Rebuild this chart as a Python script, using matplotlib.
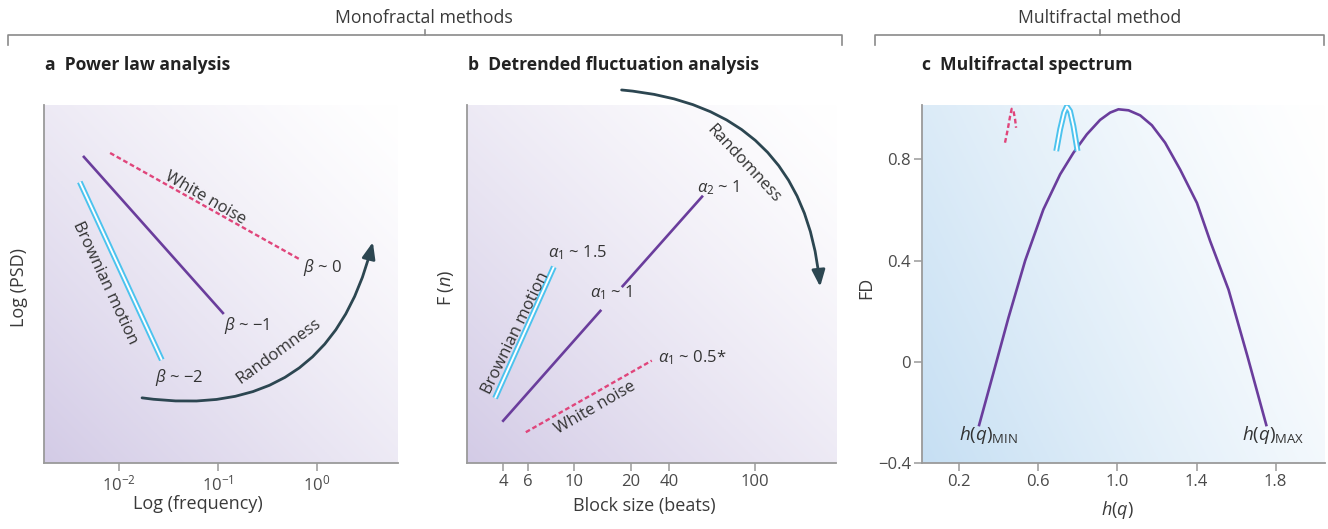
import numpy as np
import matplotlib

matplotlib.use("Agg")
import matplotlib.pyplot as plt
from matplotlib.lines import Line2D

plt.rcParams.update(
    {
        "font.family": ["Open Sans", "DejaVu Sans"],
        "font.size": 12,
        "mathtext.fontset": "custom",
        "mathtext.rm": "Open Sans",
        "mathtext.it": "Open Sans:italic",
        "mathtext.bf": "Open Sans:bold",
        "axes.edgecolor": "#9a9a9a",
        "axes.linewidth": 1.3,
        "xtick.color": "#9a9a9a",
        "ytick.color": "#9a9a9a",
        "xtick.labelcolor": "#4a4a4a",
        "ytick.labelcolor": "#4a4a4a",
        "axes.labelcolor": "#3a3a3a",
    }
)

# Colour palette
COL_PURPLE = "#6a3d9c"
COL_BLUE = "#4cc3ee"
COL_PINK = "#e0457b"
COL_ARROW = "#2c4651"
COL_TEXT = "#333333"
MINUS = "\u2212"

# ---------------------------------------------------------------------------
# Data
# ---------------------------------------------------------------------------
# a: power law analysis (frequency, log PSD in arbitrary units)
psd_freq_brown = [0.0040, 0.027]
psd_val_brown = [0.785, 0.288]
psd_freq_pink = [0.0044, 0.112]
psd_val_pink = [0.855, 0.419]
psd_freq_white = [0.0081, 0.66]
psd_val_white = [0.866, 0.570]
psd_ticks = [1e-2, 1e-1, 1e0]
psd_ticklabels = [r"$10^{-2}$", r"$10^{-1}$", r"$10^{0}$"]

# b: detrended fluctuation analysis (block size in beats, F(n) arbitrary)
dfa_ticks = [4, 6, 10, 20, 40, 100]
dfa_tick_pos = [0.098, 0.165, 0.290, 0.444, 0.547, 0.780]
dfa_brown_n = [3.75, 8.0]
dfa_brown_f = [0.181, 0.548]
dfa_a1_n = [4.0, 13.8]
dfa_a1_f = [0.118, 0.425]
dfa_a2_n = [18.1, 57.0]
dfa_a2_f = [0.494, 0.744]
dfa_white_n = [5.8, 29.3]
dfa_white_f = [0.086, 0.286]

# c: multifractal spectrum
mf_h = [0.300, 0.372, 0.448, 0.533, 0.625, 0.710, 0.777, 0.845, 0.912,
        0.963, 1.005, 1.056, 1.115, 1.174, 1.241, 1.317, 1.402, 1.469,
        1.562, 1.658, 1.753]
mf_fd = [-0.250, -0.045, 0.173, 0.400, 0.602, 0.741, 0.826, 0.899, 0.956,
         0.985, 0.998, 0.994, 0.974, 0.935, 0.866, 0.760, 0.628, 0.477,
         0.285, 0.021, -0.250]
brown_h = [0.690, 0.710, 0.730, 0.744, 0.760, 0.777, 0.798]
brown_fd = [0.833, 0.919, 0.985, 1.009, 0.991, 0.932, 0.833]
white_h = [0.431, 0.445, 0.457, 0.465, 0.474, 0.482, 0.487]
white_fd = [0.866, 0.919, 0.972, 1.000, 0.991, 0.958, 0.925]
mf_xticks = [0.2, 0.6, 1.0, 1.4, 1.8]
mf_yticks = [-0.4, 0, 0.4, 0.8]
mf_yticklabels = [MINUS + "0.4", "0", "0.4", "0.8"]

W, H = 1328, 529


def fig_rect(left, top, right, bottom):
    """Pixel box -> figure fraction rect."""
    return [left / W, 1 - bottom / H, (right - left) / W, (bottom - top) / H]


def gradient_bg(fig, rect, c0, wx):
    """Diagonal colour gradient behind an axes (c0 in bottom-left corner)."""
    bg = fig.add_axes(rect, zorder=0)
    x = np.linspace(0, 1, 200)
    y = np.linspace(0, 1, 200)
    X, Y = np.meshgrid(x, y)
    t = np.clip(wx * (1 - X) + (1 - wx) * (1 - Y), 0, 1) ** 1.3
    c0 = np.array(matplotlib.colors.to_rgb(c0))
    img = 1 - t[..., None] * (1 - c0)
    bg.imshow(img, origin="lower", extent=[0, 1, 0, 1], aspect="auto")
    bg.axis("off")


def double_line(ax, x, y):
    kw = dict(solid_capstyle="butt", solid_joinstyle="round")
    ax.plot(x, y, color=COL_BLUE, lw=4.2, **kw)
    ax.plot(x, y, color="white", lw=1.4, **kw)


def curved_arrow(ax, start, end, rad):
    ax.annotate(
        "",
        xy=end,
        xytext=start,
        xycoords="axes fraction",
        textcoords="axes fraction",
        annotation_clip=False,
        arrowprops=dict(
            arrowstyle="-|>,head_length=0.55,head_width=0.22",
            mutation_scale=18,
            color=COL_ARROW,
            lw=2.0,
            connectionstyle=f"arc3,rad={rad}",
            shrinkA=0,
            shrinkB=0,
        ),
    )


def style_axes(ax):
    ax.set_facecolor("none")
    ax.spines["top"].set_visible(False)
    ax.spines["right"].set_visible(False)
    ax.tick_params(length=6, width=1.1, labelsize=12, pad=2)


fig = plt.figure(figsize=(W / 100, H / 100), dpi=100)

rect_a = fig_rect(44, 105, 398, 463)
rect_b = fig_rect(467, 105, 836, 463)
rect_c = fig_rect(922, 105, 1325, 463)
gradient_bg(fig, rect_a, "#d3cbe6", 0.5)
gradient_bg(fig, rect_b, "#d3cbe6", 0.5)
gradient_bg(fig, rect_c, "#c6dff3", 0.7)

# ============================================================================
# a: Power law analysis
# ============================================================================
ax = fig.add_axes(rect_a, zorder=1)
style_axes(ax)
ax.set_xscale("log")
ax.set_xlim(10 ** -2.76, 10 ** 0.82)
ax.set_ylim(0, 1)
ax.set_xticks(psd_ticks)
ax.set_xticklabels(psd_ticklabels)
ax.minorticks_off()
ax.set_yticks([])
double_line(ax, psd_freq_brown, psd_val_brown)
ax.plot(psd_freq_pink, psd_val_pink, color=COL_PURPLE, lw=1.9)
ax.plot(psd_freq_white, psd_val_white, color=COL_PINK, lw=1.7,
        linestyle=(0, (2.0, 1.2)))
ax.set_xlabel("Log (frequency)", fontsize=13)
ax.xaxis.set_label_coords(0.435, -0.09)
ax.set_ylabel("Log (PSD)", fontsize=13)
ax.yaxis.set_label_coords(-0.045, 0.49)

txt = dict(transform=ax.transAxes, color=COL_TEXT, fontsize=12,
           rotation_mode="anchor")
ax.text(0.455, 0.740, "White noise", rotation=-30, ha="center", va="center", **txt)
ax.text(0.172, 0.503, "Brownian motion", rotation=-65, ha="center", va="center", **txt)
ax.text(0.662, 0.312, "Randomness", rotation=36, ha="center", va="center", **txt)
ax.text(0.732, 0.545, r"$\beta$ ~ 0", ha="left", va="center", **txt)
ax.text(0.508, 0.383, r"$\beta$ ~ " + MINUS + "1", ha="left", va="center", **txt)
ax.text(0.314, 0.240, r"$\beta$ ~ " + MINUS + "2", ha="left", va="center", **txt)
curved_arrow(ax, (0.277, 0.182), (0.929, 0.617), 0.45)

# ============================================================================
# b: Detrended fluctuation analysis
# ============================================================================
ax = fig.add_axes(rect_b, zorder=1)
style_axes(ax)
log_v = np.log10([3.0] + dfa_ticks + [300.0])
pos_v = np.array([0.0] + dfa_tick_pos + [1.0])


def fwd(n):
    return np.interp(np.log10(np.clip(n, 1e-3, None)), log_v, pos_v)


def inv(p):
    return 10 ** np.interp(p, pos_v, log_v)


ax.set_xscale("function", functions=(fwd, inv))
ax.set_xlim(3.0, 300.0)
ax.set_ylim(0, 1)
ax.set_xticks(dfa_ticks)
ax.set_xticklabels([str(v) for v in dfa_ticks])
ax.minorticks_off()
ax.set_yticks([])
double_line(ax, dfa_brown_n, dfa_brown_f)
ax.plot(dfa_a1_n, dfa_a1_f, color=COL_PURPLE, lw=1.9)
ax.plot(dfa_a2_n, dfa_a2_f, color=COL_PURPLE, lw=1.9)
ax.plot(dfa_white_n, dfa_white_f, color=COL_PINK, lw=1.7,
        linestyle=(0, (2.0, 1.2)))
ax.set_xlabel("Block size (beats)", fontsize=13)
ax.xaxis.set_label_coords(0.48, -0.095)
ax.set_ylabel("F ($n$)", fontsize=13)
ax.yaxis.set_label_coords(-0.03, 0.49)

txt = dict(transform=ax.transAxes, color=COL_TEXT, fontsize=12,
           rotation_mode="anchor")
ax.text(0.2195, 0.587, r"$\alpha_1$ ~ 1.5", ha="left", va="center", **txt)
ax.text(0.333, 0.475, r"$\alpha_1$ ~ 1", ha="left", va="center", **txt)
ax.text(0.623, 0.768, r"$\alpha_2$ ~ 1", ha="left", va="center", **txt)
ax.text(0.518, 0.293, r"$\alpha_1$ ~ 0.5*", ha="left", va="center", **txt)
ax.text(0.133, 0.363, "Brownian motion", rotation=64, ha="center", va="center", **txt)
ax.text(0.347, 0.154, "White noise", rotation=30, ha="center", va="center", **txt)
ax.text(0.750, 0.836, "Randomness", rotation=-47, ha="center", va="center", **txt)
curved_arrow(ax, (0.419, 1.042), (0.957, 0.4925), -0.415)

# ============================================================================
# c: Multifractal spectrum
# ============================================================================
ax = fig.add_axes(rect_c, zorder=1)
style_axes(ax)
ax.set_xlim(0.011, 2.05)
ax.set_ylim(-0.4, 1.015)
ax.set_xticks(mf_xticks)
ax.set_xticklabels([f"{v:.1f}" for v in mf_xticks])
ax.set_yticks(mf_yticks)
ax.set_yticklabels(mf_yticklabels)
ax.plot(mf_h, mf_fd, color=COL_PURPLE, lw=1.9, solid_joinstyle="round")
double_line(ax, brown_h, brown_fd)
ax.plot(white_h, white_fd, color=COL_PINK, lw=1.7, linestyle=(0, (2.0, 1.2)))
ax.set_xlabel("$h(q)$", fontsize=13)
ax.xaxis.set_label_coords(0.486, -0.1)
ax.set_ylabel("FD", fontsize=13)
ax.yaxis.set_label_coords(-0.115, 0.49)
ax.text(0.2, -0.289, r"$h(q)_{\mathrm{MIN}}$", ha="left", va="center",
        color=COL_TEXT, fontsize=13.5)
ax.text(1.63, -0.289, r"$h(q)_{\mathrm{MAX}}$", ha="left", va="center",
        color=COL_TEXT, fontsize=13.5)

# ============================================================================
# Headers, brackets and panel titles
# ============================================================================
def bracket(x0, x1, xm, y=35, drop=10, rise=5):
    kw = dict(color="#8a8a8a", lw=1.2, transform=fig.transFigure)
    fy = lambda py: 1 - py / H
    fig.add_artist(Line2D([x0 / W, x0 / W, x1 / W, x1 / W],
                          [fy(y + drop), fy(y), fy(y), fy(y + drop)], **kw))
    fig.add_artist(Line2D([xm / W, xm / W], [fy(y), fy(y - rise)], **kw))


bracket(8, 842, 425)
bracket(875, 1324, 1100)
fig.text(424 / W, 1 - 18 / H, "Monofractal methods", ha="center", va="center",
         fontsize=12.7, color="#3a3a3a")
fig.text(1100 / W, 1 - 18 / H, "Multifractal method", ha="center", va="center",
         fontsize=12.7, color="#3a3a3a")

for x0, label in [(45, "a  Power law analysis"),
                  (468, "b  Detrended fluctuation analysis"),
                  (922, "c  Multifractal spectrum")]:
    fig.text(x0 / W, 1 - 65 / H, label, ha="left", va="center", fontsize=12.6,
             fontweight="bold", color="#222222")

fig.savefig("out.png", dpi=100)
